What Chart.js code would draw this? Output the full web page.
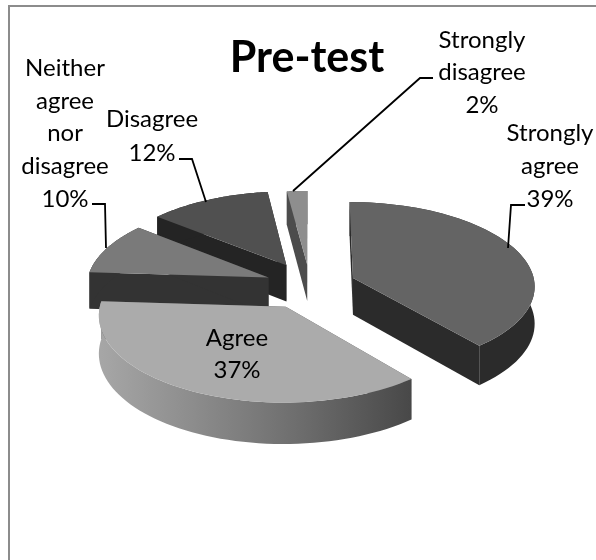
<!DOCTYPE html>
<html lang="en">
<head>
  <meta charset="UTF-8">
  <title>Pre-test</title>
  <script src="https://cdn.jsdelivr.net/npm/chart.js"></script>
  <style>
    html, body { margin: 0; padding: 0; background: #fff; overflow: hidden; }
    #wrap { position: relative; width: 596px; height: 560px; }
    #wrap:before { content: ''; position: absolute; left: 8px; top: 5px; right: 0; bottom: 0; border-left: 2px solid #8c8c8c; border-top: 2px solid #8c8c8c; }
    canvas { position: absolute; left: 0; top: 0; }
  </style>
</head>
<body>
  <div id="wrap"><canvas id="pie" width="596" height="560"></canvas></div>
  <script>
    const chartTitle = 'Pre-test';
    const categories = ['Strongly agree', 'Agree', 'Neither agree nor disagree', 'Disagree', 'Strongly disagree'];
    const percents = [39, 37, 10, 12, 2];
    const topColors = ['#646464', '#ababab', '#7a7a7a', '#505050', '#8e8e8e'];
    const wallColors = ['#2b2b2b', null, '#333333', '#242424', '#4c4c4c'];

    // how far each slice is pulled out of the pie, in pie-plane px
    const explode = [46, 52, 45, 50, 45];
    // back to front
    const drawOrder = [4, 3, 2, 0, 1];

    // label text lines, centre x, y of first line, leader line
    const labelLines = [['Strongly', 'agree'], ['Agree'], ['Neither', 'agree', 'nor', 'disagree'], ['Disagree'], ['Strongly', 'disagree']];
    const labelX = [550, 237, 65, 152, 482];
    const labelY = [133, 338, 68, 119, 40];
    const lineStep = [33, 32, 32.8, 34, 32.5];
    const leaders = [
      [[525, 205], [511, 205], [508, 248]],
      null,
      [[92, 204], [105, 204], [106, 248]],
      [[179, 159], [192, 159], [206, 202]],
      [[433, 78], [420, 78], [293, 191]]
    ];

    const tilt = 0.459;
    const persp = 0.000474;
    const depth = 37;

    function project(cx, cy, u, v, z) {
      const s = 1 / (1 - persp * v);
      return [cx + u * s, cy + (v * tilt + z) * s];
    }

    const pie3d = {
      id: 'pie3d',
      beforeDatasetsDraw(chart) {
        const ctx = chart.ctx;
        const arcs = chart.getDatasetMeta(0).data;

        drawOrder.forEach(i => {
          const el = arcs[i];
          const mid = (el.startAngle + el.endAngle) / 2;
          const ou = Math.cos(mid) * explode[i];
          const ov = Math.sin(mid) * explode[i];
          const rim = [];
          for (let k = 0; k <= 60; k++) {
            const a = el.startAngle + (el.endAngle - el.startAngle) * k / 60;
            rim.push([ou + Math.cos(a) * el.outerRadius, ov + Math.sin(a) * el.outerRadius]);
          }
          const outline = [[ou, ov]].concat(rim);
          const pt = (p, z) => project(el.x, el.y, p[0], p[1], z);

          // radial walls first, then the curved wall
          ctx.fillStyle = wallColors[i] || '#5a5a5a';
          [[outline[0], outline[1]], [outline[0], outline[outline.length - 1]]].forEach(edge => {
            fillPoly(ctx, [pt(edge[0], 0), pt(edge[1], 0), pt(edge[1], depth), pt(edge[0], depth)]);
          });
          let wall = wallColors[i];
          if (!wall) {
            const left = pt(rim[rim.length - 1], 0)[0];
            const right = pt(rim[0], 0)[0];
            wall = ctx.createLinearGradient(left, 0, right, 0);
            wall.addColorStop(0, '#a6a6a6');
            wall.addColorStop(0.3, '#8c8c8c');
            wall.addColorStop(0.65, '#6c6c6c');
            wall.addColorStop(1, '#484848');
          }
          ctx.fillStyle = wall;
          const front = rim.map(p => pt(p, 0)).concat(rim.slice().reverse().map(p => pt(p, depth)));
          fillPoly(ctx, front);

          ctx.fillStyle = el.options.backgroundColor;
          fillPoly(ctx, outline.map(p => pt(p, 0)));
        });

        drawText(ctx);
        return false;
      }
    };

    function fillPoly(ctx, pts) {
      ctx.beginPath();
      pts.forEach((p, i) => i ? ctx.lineTo(p[0], p[1]) : ctx.moveTo(p[0], p[1]));
      ctx.closePath();
      ctx.fill();
    }

    function drawText(ctx) {
      ctx.save();
      ctx.textAlign = 'center';
      ctx.textBaseline = 'middle';
      ctx.fillStyle = '#000';
      ctx.font = 'bold 43px Lato';
      ctx.fillText(chartTitle, 307, 58);

      ctx.font = '24px Lato';
      categories.forEach((c, i) => {
        const lines = labelLines[i].concat(percents[i] + '%');
        lines.forEach((t, n) => ctx.fillText(t, labelX[i], labelY[i] + n * lineStep[i]));
      });

      ctx.strokeStyle = '#000';
      ctx.lineWidth = 1.8;
      leaders.forEach(l => {
        if (!l) return;
        ctx.beginPath();
        l.forEach((p, n) => n ? ctx.lineTo(p[0], p[1]) : ctx.moveTo(p[0], p[1]));
        ctx.stroke();
      });
      ctx.restore();
    }

    new Chart(document.getElementById('pie'), {
      type: 'pie',
      data: {
        labels: categories,
        datasets: [{ data: percents, backgroundColor: topColors, borderWidth: 0 }]
      },
      options: {
        responsive: false,
        animation: false,
        radius: 182,
        layout: { padding: { left: 24, top: 10 } },
        plugins: { legend: { display: false }, tooltip: { enabled: false } }
      },
      plugins: [pie3d]
    });
  </script>
</body>
</html>
